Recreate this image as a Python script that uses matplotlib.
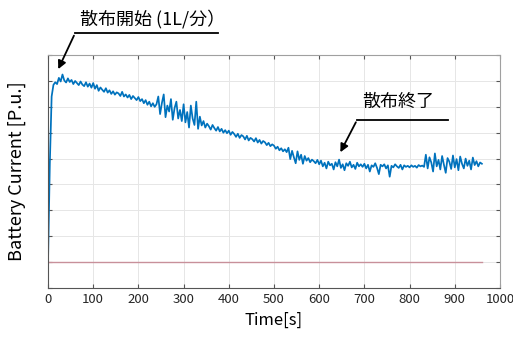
import matplotlib
matplotlib.use('Agg')
import matplotlib.pyplot as plt
import numpy as np

plt.rcParams['font.family'] = ['Noto Sans CJK JP', 'DejaVu Sans']

# time axis [s], 4 s step
time_s = np.arange(0, 961, 4)

# battery current [P.u.], one row per 100 s
current = np.array([
    1.00, 4.80, 7.40, 7.85, 7.95, 7.88, 8.12, 7.98, 8.25, 8.02, 7.94, 8.10, 7.96, 8.04, 7.88, 8.00, 7.92, 7.84, 7.98, 7.86, 7.80, 7.95, 7.78, 7.90, 7.74,
    7.92, 7.70, 7.84, 7.62, 7.75, 7.66, 7.58, 7.72, 7.55, 7.64, 7.50, 7.60, 7.47, 7.56, 7.52, 7.42, 7.58, 7.40, 7.48, 7.36, 7.46, 7.30, 7.42, 7.34, 7.26,
    7.38, 7.22, 7.30, 7.14, 7.26, 7.08, 7.20, 7.02, 7.14, 7.00, 7.10, 7.40, 6.72, 7.15, 7.48, 6.60, 7.05, 6.82, 7.30, 6.50, 6.95, 7.20, 6.55, 6.88, 6.45,
    7.10, 6.40, 6.80, 6.20, 7.05, 6.55, 6.30, 7.20, 6.15, 6.62, 6.28, 6.45, 6.20, 6.35, 6.25, 6.12, 6.30, 6.18, 6.08, 6.22, 6.05, 6.15, 6.00, 6.10, 5.98,
    6.08, 5.92, 6.03, 5.95, 5.84, 5.96, 5.80, 5.91, 5.86, 5.74, 5.88, 5.70, 5.80, 5.75, 5.66, 5.79, 5.62, 5.72, 5.58, 5.68, 5.63, 5.52, 5.61, 5.48, 5.55,
    5.50, 5.38, 5.46, 5.32, 5.40, 5.28, 5.36, 5.25, 5.42, 4.98, 5.30, 5.05, 4.82, 5.28, 4.95, 5.15, 4.80, 5.10, 4.92, 5.02, 4.86, 4.96, 4.90, 4.82, 4.95,
    4.78, 4.92, 4.70, 4.84, 4.62, 4.88, 4.74, 4.80, 4.58, 4.86, 4.70, 4.96, 4.64, 4.78, 4.55, 4.82, 4.72, 4.88, 4.66, 4.76, 4.60, 4.84, 4.70, 4.78, 4.68,
    4.80, 4.62, 4.76, 4.50, 4.74, 4.68, 4.82, 4.64, 4.40, 4.76, 4.70, 4.78, 4.62, 4.74, 4.30, 4.72, 4.66, 4.78, 4.70, 4.64, 4.76, 4.58, 4.74, 4.68, 4.72,
    4.66, 4.74, 4.68, 4.72, 4.65, 4.75, 4.70, 4.73, 4.68, 5.15, 4.62, 5.05, 4.85, 4.50, 5.20, 4.70, 4.95, 4.58, 5.10, 4.76, 4.45, 5.02, 4.88, 4.60, 5.12,
    4.66, 4.98, 4.55, 5.08, 4.80, 4.62, 5.00, 4.72, 4.92, 4.58, 5.04, 4.75, 4.90, 4.70, 4.85, 4.80,
])

# reference (red) line
ref_t = [0, 960]
ref_level = [1.0, 1.0]

fig = plt.figure(figsize=(5.13, 3.38), dpi=100)
ax = fig.add_axes([0.0936, 0.148, 0.881, 0.689])

ax.plot(ref_t, ref_level, color='#c8909a', lw=1.0)
ax.plot(time_s, current, color='#0072BD', lw=1.25)

ax.set_xlim(0, 1000)
ax.set_ylim(0, 9)
ax.set_xticks(np.arange(0, 1001, 100))
ax.set_yticks(np.arange(0, 10, 1))
ax.set_yticklabels([])
ax.grid(True, color='#e6e6e6', lw=0.7)
ax.set_axisbelow(True)
ax.tick_params(direction='in', top=True, right=True, length=3,
               color='#555555', labelsize=9.5, labelcolor='#262626')
for s in ax.spines.values():
    s.set_color('#a0a0a0')
ax.spines['left'].set_color('#555555')
ax.spines['bottom'].set_color('#555555')

ax.set_xlabel('Time[s]', fontsize=12, labelpad=4)
ax.set_ylabel('Battery Current [P.u.]', fontsize=13, labelpad=12)

# annotations
ax.annotate('', xy=(20, 8.36), xytext=(60, 9.85),
            arrowprops=dict(arrowstyle='-|>', color='black', lw=1.3, mutation_scale=12),
            annotation_clip=False)
ax.plot([60, 376], [9.85, 9.85], color='black', lw=1.3, clip_on=False)
ax.text(70, 10.4, '散布開始 (1L/分）', fontsize=13, ha='left', va='center')

ax.annotate('', xy=(644, 5.15), xytext=(684, 6.5),
            arrowprops=dict(arrowstyle='-|>', color='black', lw=1.3, mutation_scale=12),
            annotation_clip=False)
ax.plot([684, 885], [6.5, 6.5], color='black', lw=1.3)
ax.text(695, 7.17, '散布終了', fontsize=13, ha='left', va='center')

fig.savefig('out.png', dpi=100)
